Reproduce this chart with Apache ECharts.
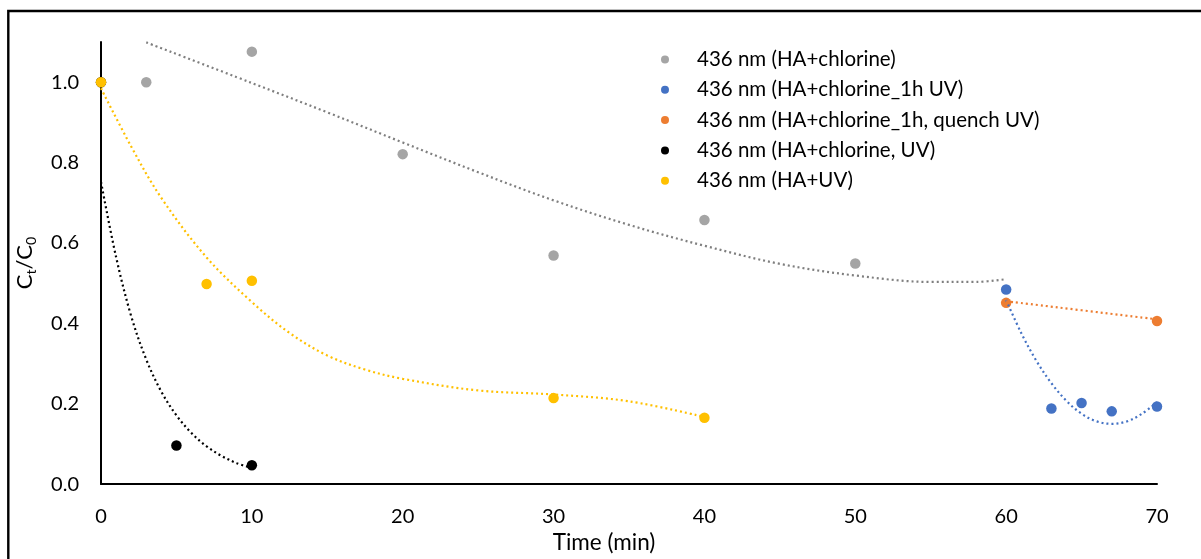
<!DOCTYPE html>
<html>
<head>
<meta charset="utf-8">
<script src="https://cdn.jsdelivr.net/npm/echarts@6/dist/echarts.min.js"></script>
<style>
  html, body { margin: 0; padding: 0; background: #fff; }
  #chart { width: 1201px; height: 559px; }
</style>
</head>
<body>
<div id="chart"></div>
<script>
// Measured absorbance ratios at 436 nm (Ct/C0) versus time (min)
const seriesNames = [
  '436 nm (HA+chlorine)',
  '436 nm (HA+chlorine_1h UV)',
  '436 nm (HA+chlorine_1h, quench UV)',
  '436 nm (HA+chlorine, UV)',
  '436 nm (HA+UV)'
];
const seriesColors = ['#A5A5A5', '#4472C4', '#ED7D31', '#000000', '#FFC000'];
const trendColors  = ['#7F7F7F', '#4472C4', '#ED7D31', '#000000', '#FFC000'];

const chlorineTime  = [3, 10, 20, 30, 40, 50];
const chlorineRatio = [1.0, 1.076, 0.821, 0.569, 0.657, 0.549];

const uv1hTime  = [60, 63, 65, 67, 70];
const uv1hRatio = [0.484, 0.188, 0.202, 0.181, 0.193];

const quenchTime  = [60, 70];
const quenchRatio = [0.451, 0.406];

const chlUvTime  = [0, 5, 10];
const chlUvRatio = [1.0, 0.096, 0.047];

const uvTime  = [0, 7, 10, 30, 40];
const uvRatio = [1.0, 0.498, 0.506, 0.214, 0.165];

// Fitted trend curves (dotted)
const chlorineTrendTime  = [3, 10, 15, 20, 25, 30, 35, 40, 45, 50, 55, 58, 60];
const chlorineTrendRatio = [1.099, 0.998, 0.925, 0.850, 0.776, 0.706, 0.645, 0.593, 0.548, 0.519, 0.503, 0.503, 0.510];

const uv1hTrendTime  = [60, 61, 62, 63, 64, 65, 66, 67, 68, 69, 70];
const uv1hTrendRatio = [0.458, 0.376, 0.307, 0.251, 0.207, 0.175, 0.156, 0.150, 0.156, 0.175, 0.204];

const quenchTrendTime  = [60, 70];
const quenchTrendRatio = [0.455, 0.410];

const chlUvTrendTime  = [0, 1, 2, 3, 4, 5, 6, 7, 8, 9, 10];
const chlUvTrendRatio = [0.752, 0.565, 0.418, 0.310, 0.230, 0.171, 0.127, 0.094, 0.070, 0.052, 0.040];

const uvTrendTime  = [0, 2, 4, 7, 10, 12.5, 15, 17.5, 20, 25, 30, 35, 40];
const uvTrendRatio = [0.985, 0.840, 0.712, 0.564, 0.453, 0.376, 0.320, 0.285, 0.262, 0.233, 0.223, 0.206, 0.167];

const FONT = 'Lato';

function pairs(xs, ys) { return xs.map((x, i) => [x, ys[i]]); }

const pointSets = [
  [chlorineTime, chlorineRatio],
  [uv1hTime, uv1hRatio],
  [quenchTime, quenchRatio],
  [chlUvTime, chlUvRatio],
  [uvTime, uvRatio]
];
const trendSets = [
  [chlorineTrendTime, chlorineTrendRatio],
  [uv1hTrendTime, uv1hTrendRatio],
  [quenchTrendTime, quenchTrendRatio],
  [chlUvTrendTime, chlUvTrendRatio],
  [uvTrendTime, uvTrendRatio]
];

const series = [];
pointSets.forEach((set, i) => {
  series.push({
    name: seriesNames[i],
    type: 'scatter',
    symbol: 'circle',
    symbolSize: 10.5,
    z: 3,
    itemStyle: { color: seriesColors[i], opacity: 1 },
    emphasis: { disabled: true },
    data: pairs(set[0], set[1])
  });
});
trendSets.forEach((set, i) => {
  series.push({
    name: 'trend-' + i,
    type: 'line',
    smooth: 0.35,
    showSymbol: false,
    symbol: 'none',
    z: 4,
    lineStyle: { color: trendColors[i], width: 2.2, type: [2, 3] },
    emphasis: { disabled: true },
    data: pairs(set[0], set[1])
  });
});

const chart = echarts.init(document.getElementById('chart'), null, { renderer: 'canvas' });
chart.setOption({
  animation: false,
  backgroundColor: '#fff',
  textStyle: { fontFamily: FONT },
  grid: { left: 101, right: 44, top: 42, bottom: 69, containLabel: false },
  legend: {
    data: seriesNames,
    orient: 'vertical',
    left: 656,
    top: 44,
    icon: 'circle',
    itemWidth: 54,
    itemHeight: 8,
    itemGap: 9.3,
    selectedMode: false,
    textStyle: { fontFamily: FONT, fontSize: 20.5, color: '#000', lineHeight: 20 }
  },
  xAxis: {
    type: 'value',
    min: 0, max: 70, interval: 10,
    name: 'Time (min)',
    nameLocation: 'middle',
    nameGap: 43,
    nameTextStyle: { fontFamily: FONT, fontSize: 22.5, color: '#000', padding: [0, 50, 0, 0] },
    axisLine: { show: true, lineStyle: { color: '#000', width: 2 } },
    axisTick: { show: false },
    splitLine: { show: false },
    axisLabel: { margin: 22, fontFamily: FONT, fontSize: 20, color: '#000' }
  },
  yAxis: {
    type: 'value',
    min: 0, max: 1.1, interval: 0.2,
    name: 'C{s|t}/C{s|0}',
    nameLocation: 'middle',
    nameGap: 63,
    nameRotate: 90,
    nameTextStyle: {
      fontFamily: FONT, fontSize: 22, color: '#000', lineHeight: 26,
      rich: { s: { fontFamily: FONT, fontSize: 14, color: '#000', lineHeight: 14, verticalAlign: 'bottom' } }
    },
    axisLine: { show: true, lineStyle: { color: '#000', width: 2 } },
    axisTick: { show: false },
    splitLine: { show: false },
    axisLabel: {
      margin: 22, fontFamily: FONT, fontSize: 20, color: '#000',
      formatter: v => (Math.abs(v * 5 - Math.round(v * 5)) < 1e-6 ? v.toFixed(1) : '')
    }
  },
  graphic: [{
    type: 'rect',
    silent: true,
    shape: { x: 8.3, y: 11, width: 1400, height: 800 },
    style: { fill: 'none', stroke: '#000', lineWidth: 2.4 }
  }],
  series: series
});
</script>
</body>
</html>
